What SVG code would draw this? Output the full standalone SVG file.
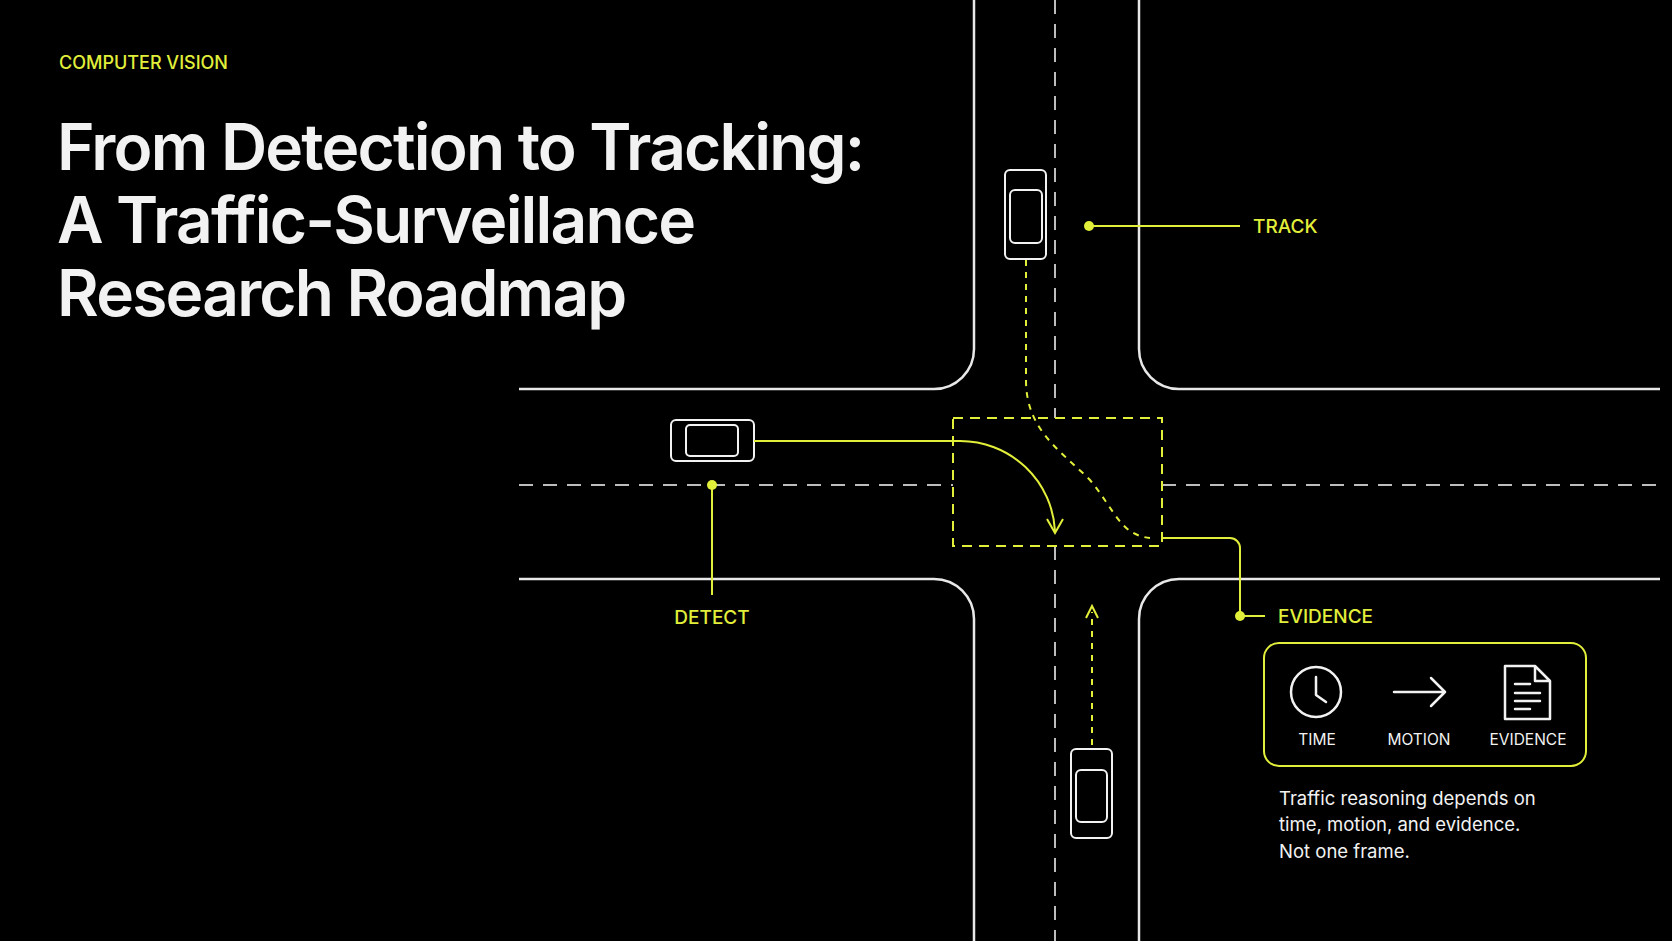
<svg xmlns="http://www.w3.org/2000/svg" width="1672" height="941" viewBox="0 0 1672 941">
<defs>
<style>
.road{fill:none;stroke:#e8e8e8;stroke-width:2.5}
.lane{fill:none;stroke:#bdbdbd;stroke-width:2;stroke-dasharray:14 10}
.y{fill:none;stroke:#e2ef3a;stroke-width:2}
.yd{fill:none;stroke:#e2ef3a;stroke-width:2;stroke-dasharray:10 7}
.ydot{fill:none;stroke:#e2ef3a;stroke-width:2;stroke-dasharray:6 6}
.car{fill:none;stroke:#f2f2f2;stroke-width:2}
.lab{font-family:Inter,"Liberation Sans",sans-serif;font-size:19px;font-weight:500;fill:#e2ef3a}
.w{font-family:Inter,"Liberation Sans",sans-serif;fill:#f2f2f2}
.icon{fill:none;stroke:#f2f2f2;stroke-width:2.5;stroke-linecap:round;stroke-linejoin:round}
</style>
<linearGradient id="fadeH" x1="519" y1="0" x2="1660" y2="0" gradientUnits="userSpaceOnUse">
<stop offset="0" stop-color="#e8e8e8" stop-opacity="0"/><stop offset="0.12" stop-color="#e8e8e8"/><stop offset="0.9" stop-color="#e8e8e8"/><stop offset="1" stop-color="#e8e8e8" stop-opacity="0"/>
</linearGradient>
</defs>
<rect width="1672" height="941" fill="#000"/>
<g id="title">
<text x="59" y="69" class="lab" style="font-size:18px">COMPUTER VISION</text>
<text class="w" font-size="64" font-weight="600" letter-spacing="-1.8"><tspan x="57" y="170">From Detection to Tracking:</tspan><tspan x="57" y="243">A Traffic-Surveillance</tspan><tspan x="57" y="316">Research Roadmap</tspan></text>
</g>
<g id="road">
<path class="road" d="M974 0 V349 A40 40 0 0 1 934 389 H519" stroke="url(#fadeH)"/>
<path class="road" d="M1139 0 V349 A40 40 0 0 0 1179 389 H1660" stroke="url(#fadeH)"/>
<path class="road" d="M519 579 H934 A40 40 0 0 1 974 619 V941" stroke="url(#fadeH)"/>
<path class="road" d="M1660 579 H1179 A40 40 0 0 0 1139 619 V941" stroke="url(#fadeH)"/>
<path class="lane" d="M1055 0 V418 M1055 546 V941 M519 485 H953 M1162 485 H1660"/>
</g>
<g id="zone"><rect x="953" y="418" width="209" height="128" class="yd"/></g>
<g id="car-top">
<rect x="1005" y="170" width="41" height="89" rx="5" class="car"/>
<rect x="1010" y="190" width="32" height="53" rx="5" class="car"/>
</g>
<g id="car-left">
<rect x="671" y="420" width="83" height="41" rx="5" class="car"/>
<rect x="686" y="425" width="52" height="31" rx="4" class="car"/>
</g>
<g id="car-bottom">
<rect x="1071" y="749" width="41" height="89" rx="5" class="car"/>
<rect x="1076" y="770" width="31" height="52" rx="5" class="car"/>
</g>
<g id="connectors">
<path class="ydot" d="M1026 260 V380 C1026 430 1060 450 1090 480 C1115 510 1120 535 1150 538"/>
<path class="y" d="M1162 538 H1230 A10 10 0 0 1 1240 548 V616"/>
<path class="y" d="M754 441 H960 A95 95 0 0 1 1055 531"/>
<path class="y" d="M1047 519 L1055 533 L1063 519"/>
<path class="ydot" d="M1092 745 V612"/>
<path class="y" d="M1086 618 L1092 606 L1098 618"/>
<path class="y" d="M1089 226 H1240"/>
<path class="y" d="M712 485 V595"/>
</g>
<g id="track"><circle cx="1089" cy="226" r="5" fill="#e2ef3a"/><text x="1253" y="233" class="lab">TRACK</text></g>
<g id="detect"><circle cx="712" cy="485" r="5" fill="#e2ef3a"/><text x="712" y="624" class="lab" text-anchor="middle">DETECT</text></g>
<g id="evidence"><circle cx="1240" cy="616" r="5" fill="#e2ef3a"/><path class="y" d="M1240 616 H1265"/><text x="1278" y="623" class="lab">EVIDENCE</text></g>
<g id="legend">
<rect x="1264" y="643" width="322" height="123" rx="15" class="y"/>
<circle cx="1316" cy="692" r="25" class="icon"/>
<path class="icon" d="M1316 677 V695 L1326 702"/>
<path class="icon" d="M1394 692 H1445 M1431 678 L1445 692 L1431 706"/>
<path class="icon" d="M1505 666 H1535 L1550 681 V719 H1505 Z M1535 666 V681 H1550 M1515 684 H1530 M1515 693 H1540 M1515 701 H1540 M1515 709 H1530"/>
<g class="w" font-size="15.5" text-anchor="middle"><text x="1317" y="745">TIME</text><text x="1419" y="745">MOTION</text><text x="1528" y="745">EVIDENCE</text></g>
</g>
<g id="caption" class="w" font-size="18.5"><text x="1279" y="805">Traffic reasoning depends on</text><text x="1279" y="831">time, motion, and evidence.</text><text x="1279" y="858">Not one frame.</text></g>
</svg>
